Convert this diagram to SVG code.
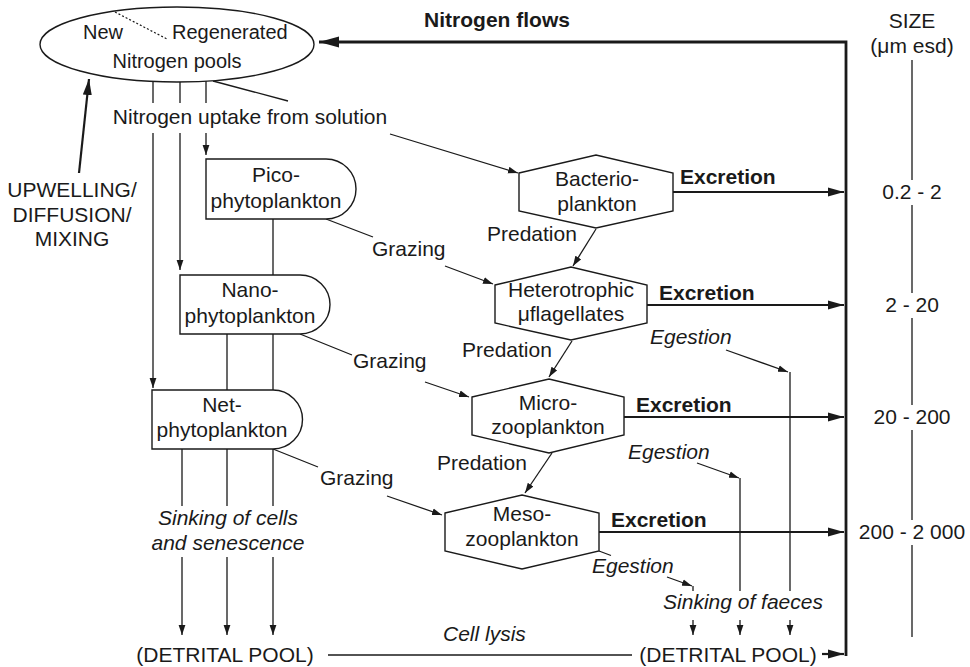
<svg xmlns="http://www.w3.org/2000/svg" width="970" height="667" viewBox="0 0 970 667">
  <style>
    .t { font-family: "Liberation Sans", Arial, Helvetica, sans-serif; font-size: 21px; fill: #1a1a1a; }
    .s20 { font-size: 20px; }
    .b { font-weight: bold; }
    .i { font-style: italic; }
    .m { text-anchor: middle; }
    .ln { stroke: #1a1a1a; stroke-width: 1.3; fill: none; }
    .bd { stroke: #1a1a1a; stroke-width: 2.2; fill: none; }
    .bx { stroke: #1a1a1a; stroke-width: 2.8; fill: none; }
    .shape { fill: #ffffff; stroke: #1a1a1a; stroke-width: 1.4; }
    .dot { stroke: #1a1a1a; stroke-width: 1.2; stroke-dasharray: 2 2; fill: none; }
  </style>
  <defs>
    <marker id="ah" markerUnits="userSpaceOnUse" markerWidth="10" markerHeight="8" refX="10" refY="4" orient="auto">
      <path d="M0,0.6 L10,4 L0,7.4 z" fill="#1a1a1a"/>
    </marker>
    <marker id="ahB" markerUnits="userSpaceOnUse" markerWidth="16" markerHeight="10" refX="16" refY="5" orient="auto">
      <path d="M0,0.5 L16,5 L0,9.5 z" fill="#1a1a1a"/>
    </marker>
    <marker id="ahL" markerUnits="userSpaceOnUse" markerWidth="20" markerHeight="12" refX="20" refY="6" orient="auto">
      <path d="M0,0.5 L20,6 L0,11.5 z" fill="#1a1a1a"/>
    </marker>
  </defs>

  <rect width="970" height="667" fill="#ffffff"/>

  <!-- connectors -->
  <g id="connectors">
    <!-- return flow to the nitrogen pools -->
    <path class="bx" d="M846,656 V42 H319" marker-end="url(#ahL)"/>
    <!-- upwelling input -->
    <path class="bd" d="M79,173 L89,79" marker-end="url(#ahB)"/>
    <!-- uptake from solution -->
    <path class="ln" d="M153,81 V103 M153,133 V388" marker-end="url(#ah)"/>
    <path class="ln" d="M180,82 V103 M180,133 V270" marker-end="url(#ah)"/>
    <path class="ln" d="M206,81 V103 M206,133 V155" marker-end="url(#ah)"/>
    <path class="ln" d="M213,81 L288,101 M390,134 L518,173" marker-end="url(#ah)"/>
    <!-- links between phytoplankton classes -->
    <path class="ln" d="M273,219 V275 M273,334 V390 M227,334 V390"/>
    <!-- sinking of cells -->
    <path class="ln" d="M182,449 V506 M182,557 V635" marker-end="url(#ah)"/>
    <path class="ln" d="M227,449 V506 M227,557 V635" marker-end="url(#ah)"/>
    <path class="ln" d="M273,449 V506 M273,557 V635" marker-end="url(#ah)"/>
    <!-- grazing -->
    <path class="ln" d="M326,219 L373,237 M445,266 L493,284" marker-end="url(#ah)"/>
    <path class="ln" d="M300,334 L352,355 M425,382 L469,397" marker-end="url(#ah)"/>
    <path class="ln" d="M273,449 L318,467 M387,496 L442,515" marker-end="url(#ah)"/>
    <!-- predation -->
    <path class="ln" d="M596,229 L573,266" marker-end="url(#ah)"/>
    <path class="ln" d="M572,341 L549,377" marker-end="url(#ah)"/>
    <path class="ln" d="M552,453 L525,493" marker-end="url(#ah)"/>
    <!-- excretion -->
    <path class="bd" d="M673,192 H844" marker-end="url(#ahB)"/>
    <path class="bd" d="M647,305 H844" marker-end="url(#ahB)"/>
    <path class="bd" d="M624,417 H844" marker-end="url(#ahB)"/>
    <path class="bd" d="M599,532 H844" marker-end="url(#ahB)"/>
    <!-- egestion -->
    <path class="ln" d="M726,350 L788,372" marker-end="url(#ah)"/>
    <path class="ln" d="M790,372 V591"/>
    <path class="ln" d="M697,463 L739,478" marker-end="url(#ah)"/>
    <path class="ln" d="M740,478 V591"/>
    <path class="ln" d="M599,551 L611,555.5 M667,577 L692,586" marker-end="url(#ah)"/>
    <path class="ln" d="M693,586 V591"/>
    <!-- sinking of faeces -->
    <path class="ln" d="M693,620 V635" marker-end="url(#ah)"/>
    <path class="ln" d="M740,620 V635" marker-end="url(#ah)"/>
    <path class="ln" d="M790,620 V635" marker-end="url(#ah)"/>
    <!-- cell lysis and detrital return -->
    <path class="ln" d="M328,655 H632"/>
    <path class="bd" d="M822,654 H844" marker-end="url(#ahB)"/>
  </g>

  <!-- nitrogen pools -->
  <g id="pools">
    <ellipse class="shape" cx="177" cy="44.5" rx="137" ry="37.5"/>
    <path class="dot" d="M115,12 L167,39"/>
    <text class="t s20" x="83" y="39">New</text>
    <text class="t s20" x="172" y="39">Regenerated</text>
    <text class="t s20 m" x="177" y="68">Nitrogen pools</text>
  </g>

  <g id="pico">
    <path class="shape" d="M206,159 H326 A30,30 0 0 1 326,219 H206 Z"/>
    <text class="t m" x="276" y="182">Pico-</text>
    <text class="t m" x="276" y="208">phytoplankton</text>
  </g>
  <g id="nano">
    <path class="shape" d="M180,275 H300 A30,29.5 0 0 1 300,334 H180 Z"/>
    <text class="t m" x="250" y="297">Nano-</text>
    <text class="t m" x="250" y="323">phytoplankton</text>
  </g>
  <g id="net">
    <path class="shape" d="M152,390 H273 A29.5,29.5 0 0 1 273,449 H152 Z"/>
    <text class="t m" x="222" y="412">Net-</text>
    <text class="t m" x="222" y="437">phytoplankton</text>
  </g>

  <g id="bacterio">
    <path class="shape" d="M519,173 L596,155 L673,173 L673,211 L596,228 L519,211 Z"/>
    <text class="t m" x="597" y="186">Bacterio-</text>
    <text class="t m" x="597" y="211">plankton</text>
  </g>
  <g id="hetero">
    <path class="shape" d="M495,285 L571,267 L647,285 L647,323 L571,340 L495,323 Z"/>
    <text class="t m" x="571" y="297">Heterotrophic</text>
    <text class="t m" x="571" y="321">μflagellates</text>
  </g>
  <g id="micro">
    <path class="shape" d="M472,397 L549,379 L624,397 L624,435 L549,453 L472,435 Z"/>
    <text class="t m" x="548" y="410">Micro-</text>
    <text class="t m" x="548" y="434">zooplankton</text>
  </g>
  <g id="meso">
    <path class="shape" d="M445,513 L522,495 L599,513 L599,551 L522,569 L445,551 Z"/>
    <text class="t m" x="522" y="521">Meso-</text>
    <text class="t m" x="522" y="546">zooplankton</text>
  </g>

  <g id="detritus-left">
    <text class="t m" x="225" y="662">(DETRITAL POOL)</text>
  </g>
  <g id="detritus-right">
    <text class="t m" x="728" y="662">(DETRITAL POOL)</text>
  </g>

  <!-- flow labels -->
  <g id="labels">
    <text class="t b m" x="497" y="27">Nitrogen flows</text>
    <text class="t m" x="250" y="124">Nitrogen uptake from solution</text>
    <text class="t m" x="72" y="197">UPWELLING/</text>
    <text class="t m" x="72" y="222">DIFFUSION/</text>
    <text class="t m" x="72" y="246">MIXING</text>
    <text class="t" x="372" y="256">Grazing</text>
    <text class="t" x="353" y="368">Grazing</text>
    <text class="t" x="320" y="485">Grazing</text>
    <text class="t" x="487" y="241">Predation</text>
    <text class="t" x="462" y="357">Predation</text>
    <text class="t" x="437" y="470">Predation</text>
    <text class="t b" x="680" y="184">Excretion</text>
    <text class="t b" x="659" y="300">Excretion</text>
    <text class="t b" x="636" y="412">Excretion</text>
    <text class="t b" x="611" y="527">Excretion</text>
    <text class="t i" x="650" y="344">Egestion</text>
    <text class="t i" x="628" y="459">Egestion</text>
    <text class="t i" x="592" y="573">Egestion</text>
    <text class="t i m" x="228" y="525">Sinking of cells</text>
    <text class="t i m" x="228" y="550">and senescence</text>
    <text class="t i m" x="743" y="609">Sinking of faeces</text>
    <text class="t i" x="443" y="641">Cell lysis</text>
  </g>

  <!-- size scale -->
  <g id="size-scale">
    <text class="t m" x="912" y="28">SIZE</text>
    <text class="t m" x="912" y="53">(μm esd)</text>
    <path class="ln" d="M912,60 V180 M912,205 V293 M912,318 V405 M912,430 V520 M912,545 V637"/>
    <text class="t m" x="912" y="199">0.2 - 2</text>
    <text class="t m" x="912" y="312">2 - 20</text>
    <text class="t m" x="912" y="424">20 - 200</text>
    <text class="t m" x="912" y="539">200 - 2 000</text>
  </g>
</svg>
